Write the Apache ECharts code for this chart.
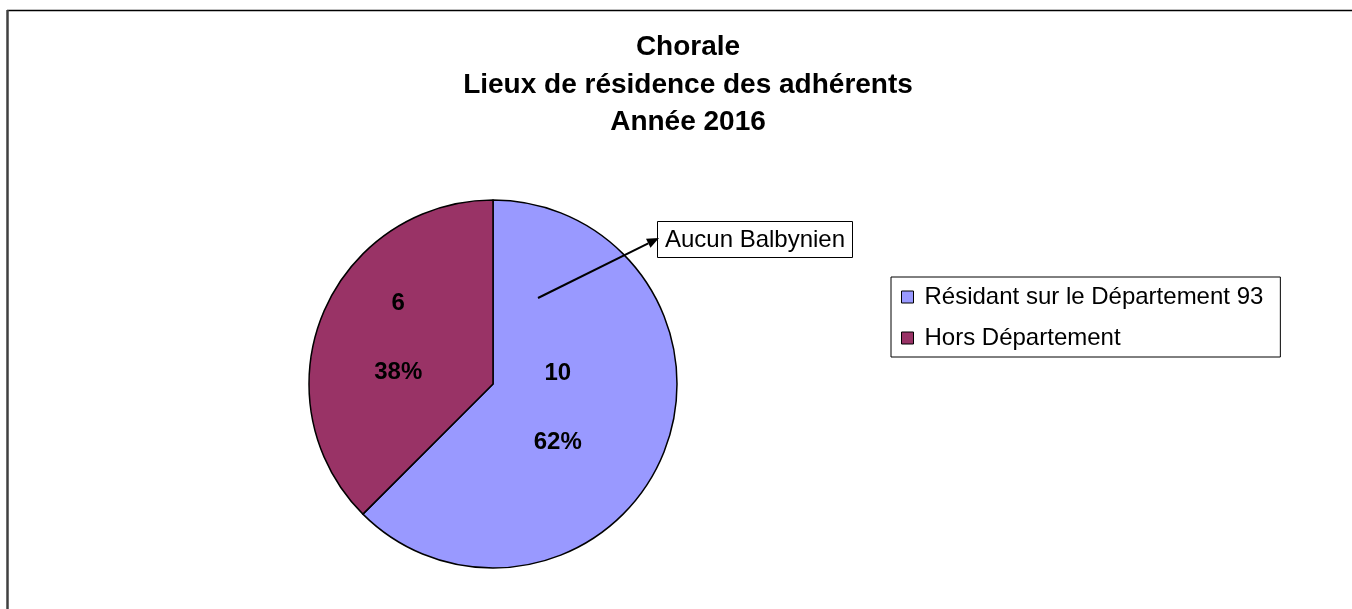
<!DOCTYPE html>
<html><head><meta charset="utf-8">
<script src="https://cdn.jsdelivr.net/npm/echarts@6/dist/echarts.min.js"></script>
<style>
html,body{margin:0;padding:0;background:#fff;overflow:hidden;}
#chart{width:1352px;height:609px;}
</style></head><body><div id="chart"></div>
<script>
const titleLines = ['Chorale', 'Lieux de résidence des adhérents', 'Année 2016'];
const categories = ['Résidant sur le Département 93', 'Hors Département'];
const values = [10, 6];
const colors = ['#9999FF', '#993366'];
const annotationText = 'Aucun Balbynien';

const FONT = 'Liberation Sans, Arial, sans-serif';
const labelOffsets = [[-23, -12], [-7, -10]];

function roundHalfEven(x) {
  const f = Math.floor(x);
  if (Math.abs(x - f - 0.5) < 1e-9) return f % 2 === 0 ? f : f + 1;
  return Math.round(x);
}

const chart = echarts.init(document.getElementById('chart'));

// arrow geometry for annotation
const arrowFrom = [538, 298], arrowTo = [659, 238];
const dx = arrowTo[0] - arrowFrom[0], dy = arrowTo[1] - arrowFrom[1];
const len = Math.sqrt(dx * dx + dy * dy);
const ux = dx / len, uy = dy / len;
const headL = 12, headW = 5;
const bx = arrowTo[0] - headL * ux, by = arrowTo[1] - headL * uy;

chart.setOption({
  animation: false,
  backgroundColor: '#fff',
  title: {
    text: titleLines.join('\n'),
    left: 688, top: 29, padding: 0,
    textAlign: 'center',
    textStyle: {fontFamily: FONT, fontSize: 28, fontWeight: 'bold', color: '#000', lineHeight: 37.5}
  },
  legend: {
    orient: 'vertical',
    left: 891, top: 277,
    padding: [8, 17, 7, 10],
    itemGap: 17,
    itemWidth: 12, itemHeight: 12,
    icon: 'rect',
    borderColor: '#000', borderWidth: 1,
    backgroundColor: '#fff',
    itemStyle: {borderColor: '#000', borderWidth: 1},
    textStyle: {fontFamily: FONT, fontSize: 24, color: '#000', padding: [0, 0, 0, 6]},
    data: categories
  },
  series: [{
    type: 'pie',
    center: [493, 384],
    radius: 184,
    startAngle: 90,
    clockwise: true,
    silent: true,
    itemStyle: {borderColor: '#000', borderWidth: 1.5},
    label: {
      show: true,
      position: 'inside',
      fontFamily: FONT, fontSize: 24, fontWeight: 'bold', color: '#000',
      lineHeight: 34.5,
      formatter: p => p.value + '\n\n' + roundHalfEven(p.percent) + '%'
    },
    labelLine: {show: false},
    data: categories.map((c, i) => ({
      name: c, value: values[i],
      itemStyle: {color: colors[i]},
      label: {offset: labelOffsets[i]}
    }))
  }],
  graphic: [
    {type: 'line', shape: {x1: 7, y1: 10.5, x2: 1352, y2: 10.5}, style: {stroke: '#000', lineWidth: 1.5}, z: 100},
    {type: 'line', shape: {x1: 7.5, y1: 10, x2: 7.5, y2: 609}, style: {stroke: '#404040', lineWidth: 2.5}, z: 100},
    {type: 'rect', shape: {x: 657.5, y: 221.5, width: 195, height: 36}, style: {fill: '#fff', stroke: '#000', lineWidth: 1}, z: 100},
    {type: 'text', x: 755, y: 240, style: {text: annotationText, fontFamily: FONT, fontSize: 24, fill: '#000', align: 'center', verticalAlign: 'middle'}, z: 101},
    {type: 'line', shape: {x1: arrowFrom[0], y1: arrowFrom[1], x2: bx, y2: by}, style: {stroke: '#000', lineWidth: 2}, z: 100},
    {type: 'polygon', shape: {points: [arrowTo, [bx + headW * uy, by - headW * ux], [bx - headW * uy, by + headW * ux]]}, style: {fill: '#000'}, z: 100}
  ]
});
</script></body></html>
